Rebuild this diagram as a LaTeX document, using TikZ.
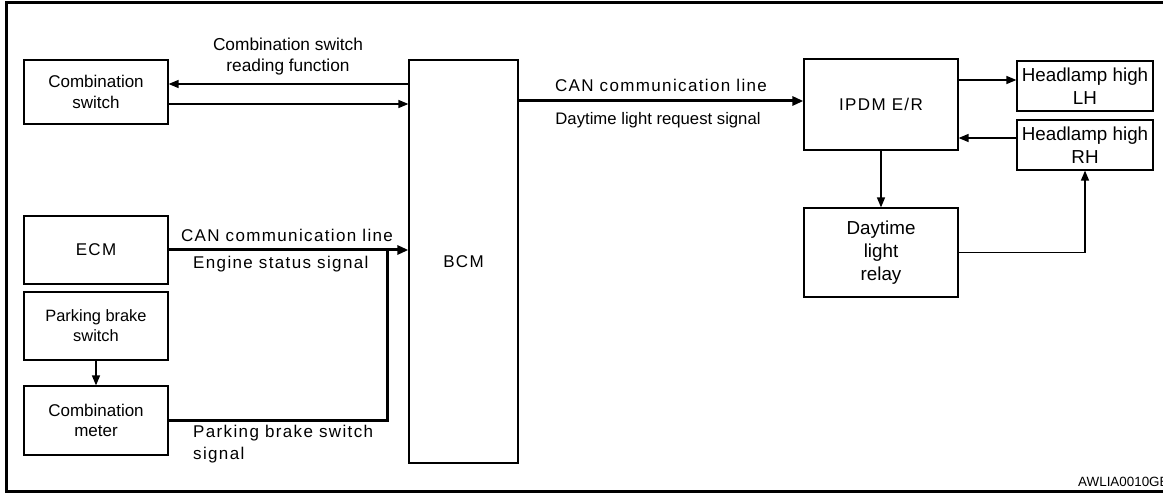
\documentclass[tikz,border=0pt]{standalone}
\usepackage{fontspec}
\setmainfont{Liberation Sans}
\newfontfamily\lsfont[LetterSpace=8]{Liberation Sans}
\usetikzlibrary{arrows.meta,calc}
\tikzset{
  box/.style={draw, line width=1.2pt, inner sep=0pt, align=center, font=\fontsize{17}{20.5}\selectfont},
  bigbox/.style={box, font=\fontsize{18.8}{23.3}\selectfont},
  arr/.style={line width=1.3pt, -{Triangle[length=10pt,width=8pt]}},
  bus/.style={line width=3pt},
  busarr/.style={bus, -{Triangle[length=11pt,width=9pt]}},
  lbl/.style={inner sep=0pt, align=center, font=\fontsize{17.3}{21}\selectfont},
  slbl/.style={inner sep=0pt, align=left, font=\lsfont\fontsize{17}{21.5}\selectfont},
}
\begin{document}
\begin{tikzpicture}[x=1pt,y=-1pt]
\useasboundingbox (0,0) rectangle (1163,494);
% frame (open on the right)
\draw[line width=3pt] (1170,2.5) -- (6.5,2.5) -- (6.5,491.5) -- (1170,491.5);

% nodes
\node[box, minimum width=144pt, minimum height=64pt] (cs) at (96,92) {Combination\\switch};
\node[box, minimum width=109pt, minimum height=403pt, font=\lsfont\fontsize{17}{20}\selectfont] (bcm) at (463.5,261.5) {BCM};
\node[box, minimum width=144pt, minimum height=68pt, font=\lsfont\fontsize{17}{20}\selectfont] (ecm) at (96,250) {ECM};
\node[box, minimum width=144pt, minimum height=68pt, font=\fontsize{16.4}{20}\selectfont] (pbs) at (96,326) {Parking brake\\switch};
\node[box, minimum width=144pt, minimum height=69pt] (cm) at (96,420.5) {Combination\\meter};
\node[box, minimum width=154pt, minimum height=91pt, font=\lsfont\fontsize{17}{20}\selectfont] (ipdm) at (881,104.5) {IPDM E/R};
\node[bigbox, minimum width=136pt, minimum height=50pt] (lh) at (1085,86) {Headlamp high\\LH};
\node[bigbox, minimum width=136pt, minimum height=50pt] (rh) at (1085,145) {Headlamp high\\RH};
\node[bigbox, minimum width=154pt, minimum height=89pt] (dlr) at (881,252.5) {Daytime\\light\\relay};

% labels
\node[lbl] (l1) at (288,56.5) {Combination switch\\reading function};
\node[slbl] (l2) at (287,235) {CAN communication line};
\node[slbl, anchor=west] (l3) at (193,264) {Engine status signal};
\node[slbl, anchor=north west] (l4) at (193,425) {Parking brake switch\\signal};
\node[slbl] (l5) at (661,85) {CAN communication line};
\node[lbl, font=\fontsize{16.7}{20}\selectfont] (l6) at (658,120) {Daytime light request signal};
\node[inner sep=0pt, anchor=base west, font=\fontsize{13.4}{16}\selectfont] (code) at (1078,486.5) {AWLIA0010GE};

% connectors
\coordinate (a1) at ($(cs.east)+(0,-8)$);
\coordinate (a2) at ($(cs.east)+(0,12)$);
\draw[arr] (bcm.west |- a1) -- (a1);
\draw[arr] (a2) -- (a2 -| bcm.west);

\draw[busarr] (ecm.east) -- (ecm.east -| bcm.west);
\coordinate (j) at (387,250);
\draw[bus] (cm.east) -| (j);
\draw[arr] (pbs.south) -- (cm.north);

\coordinate (b1) at ($(ipdm.west)+(0,-3.5)$);
\draw[busarr] (b1 -| bcm.east) -- (b1);

\coordinate (c1) at ($(lh.west)+(0,-6)$);
\draw[arr] (c1 -| ipdm.east) -- (c1);
\coordinate (c2) at ($(rh.west)+(0,-7)$);
\draw[arr] (c2) -- (c2 -| ipdm.east);
\draw[arr] (ipdm.south) -- (dlr.north);
\draw[arr] (dlr.east) -| (rh.south);
\end{tikzpicture}
\end{document}
